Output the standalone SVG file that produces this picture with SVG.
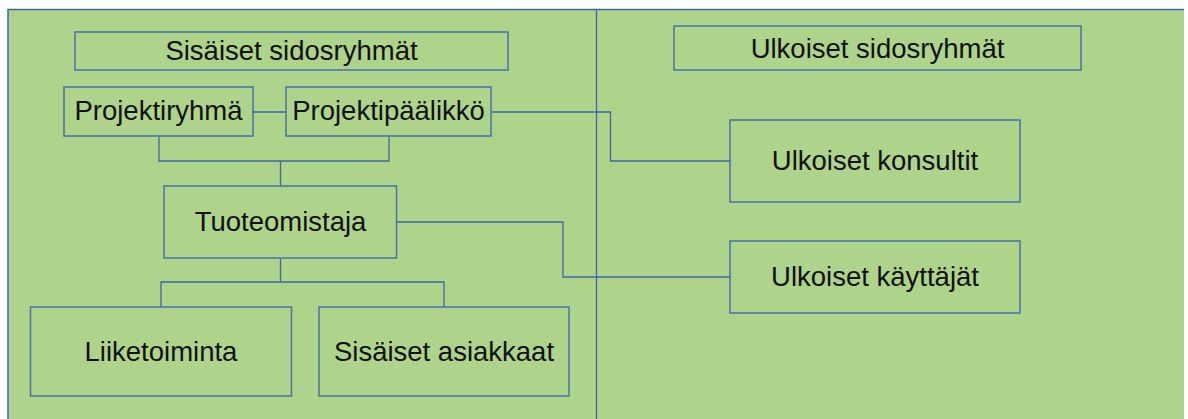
<svg xmlns="http://www.w3.org/2000/svg" width="1188" height="419" viewBox="0 0 1188 419">
<style>
.box{fill:#aed38b;stroke:#4a72ad;stroke-width:1.5}
.t{font-family:"Liberation Sans",Arial,sans-serif;font-size:27.5px;fill:#111;text-anchor:middle}
.c{fill:none;stroke:#3f67a8;stroke-width:1.3}
</style>
<rect x="0" y="0" width="1188" height="419" fill="#ffffff"/>
<rect x="8" y="9.5" width="1176" height="420" fill="#aed38b"/>
<path d="M8 420 V9.5 H1184" fill="none" stroke="#3f67a8" stroke-width="1.5"/>
<line x1="596.5" y1="9.5" x2="596.5" y2="419" stroke="#3f67a8" stroke-width="1.3"/>
<g id="connectors">
<path class="c" d="M253 112 H286"/>
<path class="c" d="M491 112 H610.5 V161 H730"/>
<path class="c" d="M159 136 V161 H389 V136"/>
<path class="c" d="M280.5 161 V186"/>
<path class="c" d="M396.5 222 H563 V277 H730"/>
<path class="c" d="M280.5 258 V282"/>
<path class="c" d="M161 307 V282 H444 V307"/>
</g>
<g id="sisaiset-sidosryhmat"><rect class="box" x="75" y="32" width="433" height="38"/><text class="t" x="291.5" y="60">Sisäiset sidosryhmät</text></g>
<g id="ulkoiset-sidosryhmat"><rect class="box" x="674" y="26" width="407" height="44"/><text class="t" x="877.5" y="57.5">Ulkoiset sidosryhmät</text></g>
<g id="projektiryhma"><rect class="box" x="64" y="87" width="189" height="49"/><text class="t" x="158.5" y="120">Projektiryhmä</text></g>
<g id="projektipaalikko"><rect class="box" x="286" y="87" width="205" height="49"/><text class="t" x="388.5" y="120">Projektipäälikkö</text></g>
<g id="ulkoiset-konsultit"><rect class="box" x="730" y="120" width="290" height="82"/><text class="t" x="875" y="170">Ulkoiset konsultit</text></g>
<g id="tuoteomistaja"><rect class="box" x="164" y="186" width="232.5" height="72"/><text class="t" x="280.5" y="231">Tuoteomistaja</text></g>
<g id="ulkoiset-kayttajat"><rect class="box" x="730" y="241" width="290" height="72"/><text class="t" x="875" y="286">Ulkoiset käyttäjät</text></g>
<g id="liiketoiminta"><rect class="box" x="30.5" y="307" width="261" height="89"/><text class="t" x="161" y="361">Liiketoiminta</text></g>
<g id="sisaiset-asiakkaat"><rect class="box" x="319" y="307" width="250" height="89"/><text class="t" x="444" y="361">Sisäiset asiakkaat</text></g>
</svg>
